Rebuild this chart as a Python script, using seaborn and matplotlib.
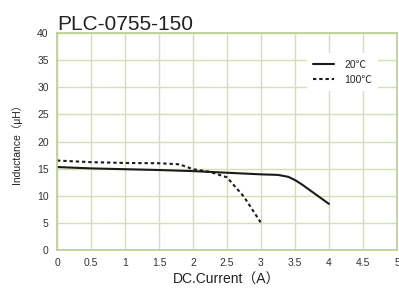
import pandas as pd
import matplotlib
matplotlib.use("Agg")
import matplotlib.pyplot as plt
import seaborn as sns

# data
current_20 = [0, 0.5, 1, 1.5, 2, 2.5, 3, 3.25, 3.4, 3.5, 3.6, 3.8, 4]
induct_20 = [15.3, 15.05, 14.9, 14.75, 14.55, 14.25, 13.95, 13.85, 13.5, 12.9, 12.1, 10.3, 8.5]
current_100 = [0, 0.5, 1, 1.5, 1.8, 2, 2.25, 2.5, 2.75, 3]
induct_100 = [16.5, 16.2, 16.05, 16.0, 15.8, 14.9, 14.4, 13.4, 9.8, 5.0]
labels = ["20℃", "100℃"]
x_ticks = [0, 0.5, 1, 1.5, 2, 2.5, 3, 3.5, 4, 4.5, 5]
x_tick_labels = ["0", "0.5", "1", "1.5", "2", "2.5", "3", "3.5", "4", "4.5", "5"]
y_ticks = [0, 5, 10, 15, 20, 25, 30, 35, 40]

df = pd.concat([
    pd.DataFrame({"current": current_20, "inductance": induct_20, "temp": labels[0]}),
    pd.DataFrame({"current": current_100, "inductance": induct_100, "temp": labels[1]}),
])

sns.set_style("white")
plt.rcParams['font.family'] = ['Liberation Sans', 'Noto Sans CJK JP', 'DejaVu Sans']

fig = plt.figure(figsize=(3.99, 2.98), dpi=100)
ax = fig.add_axes([0.143, 0.161, 0.852, 0.728])

sns.lineplot(data=df, x="current", y="inductance", style="temp", color="#1a1a1a",
             dashes={labels[0]: "", labels[1]: (1.6, 1.4)}, linewidth=1.5, ax=ax)

ax.set_xlim(0, 5)
ax.set_ylim(0, 40)
ax.set_xticks(x_ticks)
ax.set_xticklabels(x_tick_labels)
ax.set_yticks(y_ticks)
ax.grid(True, color="#d3e0b4", linewidth=1.0)
ax.set_axisbelow(True)
for s in ax.spines.values():
    s.set_color("#b9cf8f")
    s.set_linewidth(1.2)
ax.tick_params(length=0, labelsize=7.5, colors="#333333", pad=6)

ax.set_xlabel("DC.Current（A）", fontsize=10, color="#222222", labelpad=3)
ax.set_ylabel("Inductance（μH）", fontsize=7.5, color="#222222", labelpad=11)
ax.set_title("PLC-0755-150", fontsize=15, loc="left", color="#222222", pad=2)

leg = ax.legend(loc="upper right", bbox_to_anchor=(0.96, 0.93), frameon=True,
                fontsize=7.5, handlelength=2.0, handletextpad=1.0,
                borderpad=0.6, labelspacing=0.5)
leg.get_frame().set_facecolor("white")
leg.get_frame().set_edgecolor("none")
leg.get_frame().set_alpha(1)
leg.set_title(None)

fig.savefig("out.png", dpi=100)
